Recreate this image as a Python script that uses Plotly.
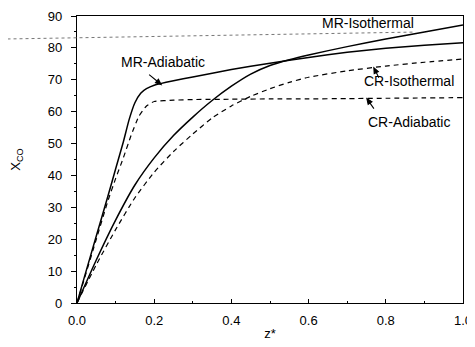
import math
import plotly.graph_objects as go

# ---- data ----
z_mr_adi = [0, 0.02, 0.05, 0.08, 0.1, 0.12, 0.135, 0.15, 0.165, 0.18, 0.2, 0.25, 0.3, 0.4, 0.5, 0.6, 0.7, 0.8, 0.9, 1.0]
x_mr_adi = [0, 8.5, 21, 33.5, 42, 50.5, 57.5, 62.8, 65.8, 67.2, 68.3, 69.7, 70.9, 73.2, 75.2, 77.0, 78.6, 79.9, 80.8, 81.6]

z_cr_adi = [0, 0.02, 0.05, 0.08, 0.1, 0.12, 0.14, 0.16, 0.18, 0.2, 0.25, 0.3, 0.4, 0.5, 0.6, 0.7, 0.8, 0.9, 1.0]
x_cr_adi = [0, 8, 20, 32, 39, 45.5, 52.5, 58.5, 61.8, 63.2, 63.6, 63.8, 63.9, 64.0, 64.0, 64.1, 64.2, 64.3, 64.4]

z_mr_iso = [0, 0.05, 0.1, 0.15, 0.2, 0.25, 0.3, 0.35, 0.4, 0.45, 0.5, 0.55, 0.6, 0.7, 0.8, 0.9, 1.0]
x_mr_iso = [0, 13.5, 26, 37, 45.5, 52.5, 58.3, 63.5, 68, 71.8, 74.5, 76.3, 77.8, 80.4, 82.8, 85.0, 87.2]

z_cr_iso = [0, 0.05, 0.1, 0.15, 0.2, 0.25, 0.3, 0.35, 0.4, 0.45, 0.5, 0.55, 0.6, 0.7, 0.8, 0.9, 1.0]
x_cr_iso = [0, 12, 23, 33, 41, 47.5, 53, 58, 61.8, 64.8, 67.2, 69.2, 70.8, 72.8, 74.3, 75.5, 76.5]

x_ticks = [0.0, 0.2, 0.4, 0.6, 0.8, 1.0]
x_tick_labels = ["0.0", "0.2", "0.4", "0.6", "0.8", "1.0"]
y_ticks = [0, 10, 20, 30, 40, 50, 60, 70, 80, 90]

FONT = "Liberation Sans, Arial, sans-serif"

fig = go.Figure()
fig.add_trace(go.Scatter(x=z_mr_adi, y=x_mr_adi, mode="lines", name="MR-Adiabatic",
                         line=dict(color="black", width=1.5, shape="spline", smoothing=0.4)))
fig.add_trace(go.Scatter(x=z_cr_adi, y=x_cr_adi, mode="lines", name="CR-Adiabatic",
                         line=dict(color="black", width=1.2, dash="5px,4px", shape="spline", smoothing=0.4)))
fig.add_trace(go.Scatter(x=z_mr_iso, y=x_mr_iso, mode="lines", name="MR-Isothermal",
                         line=dict(color="black", width=1.5, shape="spline", smoothing=0.6)))
fig.add_trace(go.Scatter(x=z_cr_iso, y=x_cr_iso, mode="lines", name="CR-Isothermal",
                         line=dict(color="black", width=1.2, dash="5px,4px", shape="spline", smoothing=0.6)))

# text labels
labels = [
    ("MR-Isothermal", 0.755, 87.7),
    ("MR-Adiabatic", 0.222, 75.6),
    ("CR-Isothermal", 0.86, 69.6),
    ("CR-Adiabatic", 0.86, 56.8),
]
for txt, lx, ly in labels:
    fig.add_annotation(x=lx, y=ly, text=txt, showarrow=False,
                       font=dict(family=FONT, size=14, color="black"))

# arrows: head anchored on the curve, tail offset in pixels (y up)
arrows = [
    (0.218, 68.5, -12, 10),
    (0.769, 73.8, 5, -10),
    (0.751, 64.1, 7, -10),
]
HEAD_L, HEAD_W = 5.5, 2.3
for hx, hy, tx, ty in arrows:
    d = math.hypot(tx, ty)
    ux, uy = -tx / d, -ty / d          # direction tail -> head
    bx, by = -ux * HEAD_L, -uy * HEAD_L  # base centre of head
    px, py = -uy * HEAD_W, ux * HEAD_W
    path = (f"M {tx:.2f},{ty:.2f} L {bx:.2f},{by:.2f} "
            f"M 0,0 L {bx + px:.2f},{by + py:.2f} L {bx - px:.2f},{by - py:.2f} Z")
    fig.add_shape(type="path", xref="x", yref="y", xsizemode="pixel", ysizemode="pixel",
                  xanchor=hx, yanchor=hy, path=path,
                  line=dict(color="black", width=1.1), fillcolor="black")

# faint dotted scan line
fig.add_shape(type="line", xref="paper", yref="paper", x0=-0.18, y0=0.92, x1=0.876, y1=0.944,
              line=dict(color="#777777", width=1, dash="dot"))

fig.update_layout(
    width=467, height=339,
    margin=dict(l=69, r=12, t=8, b=44),
    plot_bgcolor="white", paper_bgcolor="white",
    showlegend=False,
    font=dict(family=FONT, size=13, color="black"),
)
fig.update_xaxes(
    range=[0, 1.0], tickvals=x_ticks, ticktext=x_tick_labels,
    ticks="inside", ticklen=4, tickwidth=1, tickcolor="black",
    minor=dict(dtick=0.1, ticks="inside", ticklen=2, tickcolor="black"),
    showline=True, linecolor="black", linewidth=1.3, mirror=True,
    showgrid=False, zeroline=False, ticklabelstandoff=5,
    title=dict(text="z*", standoff=2, font=dict(size=13)),
    tickfont=dict(size=13), automargin=False,
)
fig.update_yaxes(
    range=[0, 90], tickvals=y_ticks,
    ticks="outside", ticklen=5, tickwidth=1, tickcolor="black",
    minor=dict(dtick=5, ticks="outside", ticklen=2, tickcolor="black"),
    showline=True, linecolor="black", linewidth=1.3, mirror=True,
    showgrid=False, zeroline=False, ticklabelstandoff=6,
    title=dict(text="X<sub>CO</sub>", standoff=24, font=dict(size=13)),
    tickfont=dict(size=13), automargin=False,
)

fig.write_html("out.html")
